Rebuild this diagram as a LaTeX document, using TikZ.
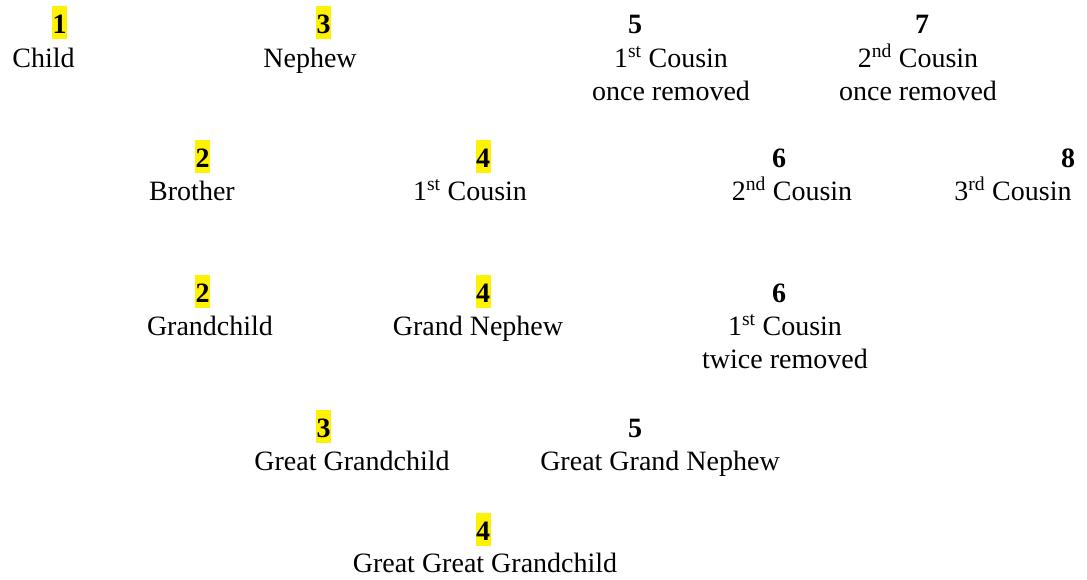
\documentclass[tikz,border=0pt]{standalone}
\usepackage{fontspec}
\setmainfont{Liberation Serif}
\begin{document}
\begin{tikzpicture}
        [x=1pt, y=-1pt,
         every node/.style={anchor=base, font=\fontsize{28}{33}\selectfont},
         num_style/.style={font=\fontsize{28}{33}\selectfont\bfseries,
                           inner xsep=0.5pt, inner ysep=0pt, text height=27pt, text depth=6pt},
         num_style_hl/.style={num_style, fill=yellow},
         label_style/.style={align=center, inner sep=0pt}]
            \useasboundingbox (0, 0) rectangle (1087, 579);
            % row 1
            \node[num_style_hl] (n11) at (59.5, 33)  {1};
            \node[num_style_hl] (n12) at (323.5, 33) {3};
            \node[num_style]    (n13) at (635, 33)   {5};
            \node[num_style]    (n14) at (922, 33)   {7};
            \node[label_style] (l11) at (43.5, 67) {Child};
            \node[label_style] (l12) at (310, 67)  {Nephew};
            \node[label_style] (l13) at (671, 100) {1\textsuperscript{st} Cousin\\once removed};
            \node[label_style] (l14) at (918, 100) {2\textsuperscript{nd} Cousin\\once removed};
            % row 2
            \node[num_style_hl] (n21) at (202.5, 167) {2};
            \node[num_style_hl] (n22) at (483, 167)   {4};
            \node[num_style]    (n23) at (779, 167)   {6};
            \node[num_style]    (n24) at (1068, 167)  {8};
            \node[label_style] (l21) at (192, 200)  {Brother};
            \node[label_style] (l22) at (470, 200)  {1\textsuperscript{st} Cousin};
            \node[label_style] (l23) at (792, 200)  {2\textsuperscript{nd} Cousin};
            \node[label_style] (l24) at (1013, 200) {3\textsuperscript{rd} Cousin};
            % row 3
            \node[num_style_hl] (n31) at (202.5, 302) {2};
            \node[num_style_hl] (n32) at (483, 302)   {4};
            \node[num_style]    (n33) at (779, 302)   {6};
            \node[label_style] (l31) at (210, 335) {Grandchild};
            \node[label_style] (l32) at (478, 335) {Grand Nephew};
            \node[label_style] (l33) at (785, 368) {1\textsuperscript{st} Cousin\\twice removed};
            % row 4
            \node[num_style_hl] (n41) at (323.5, 437) {3};
            \node[num_style]    (n42) at (635, 437)   {5};
            \node[label_style] (l41) at (352, 470) {Great Grandchild};
            \node[label_style] (l42) at (660, 470) {Great Grand Nephew};
            % row 5
            \node[num_style_hl] (n51) at (483, 540) {4};
            \node[label_style] (l51) at (485, 572) {Great Great Grandchild};
        \end{tikzpicture}
\end{document}
